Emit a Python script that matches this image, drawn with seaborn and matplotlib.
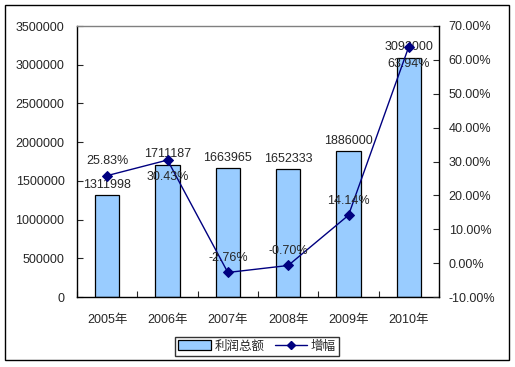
import numpy as np
import pandas as pd
import matplotlib
matplotlib.use('Agg')
import matplotlib.pyplot as plt
from matplotlib.patches import Rectangle
from matplotlib.lines import Line2D
from matplotlib.ticker import FuncFormatter, FixedLocator
import seaborn as sns

years = ['2005年', '2006年', '2007年', '2008年', '2009年', '2010年']
profit = [1311998, 1711187, 1663965, 1652333, 1886000, 3092000]
growth = [25.83, 30.43, -2.76, -0.70, 14.14, 63.94]
bar_name = '利润总额'
line_name = '增幅'
growth_label_below = [False, True, False, False, False, True]

sns.set_style('white')
plt.rcParams['font.family'] = ['Liberation Sans', 'Noto Sans CJK SC']
plt.rcParams['font.size'] = 9

df = pd.DataFrame({'year': years, 'pos': np.arange(len(years)),
                   'profit': profit, 'growth': growth})

fig = plt.figure(figsize=(5.15, 3.67), dpi=100)
fig.patches.append(Rectangle((5 / 515, 1 - 360 / 367), 504 / 515, 355 / 367,
                             transform=fig.transFigure, fill=False,
                             edgecolor='black', linewidth=1.0))
ax = fig.add_axes([77 / 515, 1 - 297 / 367, 362 / 515, 271 / 367])

sns.barplot(data=df, x='pos', y='profit', ax=ax, color='#99CCFF',
            saturation=1, width=0.4, edgecolor='black', linewidth=0.9)
ax.set_xlim(-0.5, len(years) - 0.5)
ax.set_ylim(0, 3500000)
ax.set_yticks(np.arange(0, 3500001, 500000))
ax.yaxis.set_major_formatter(FuncFormatter(lambda v, p: f'{int(v)}'))
ax.set_xticks(df['pos'])
ax.set_xticklabels(years)
ax.xaxis.set_minor_locator(FixedLocator(np.arange(-0.5, len(years), 1.0)))
ax.tick_params(axis='x', which='major', length=0, pad=12, labelsize=9)
ax.tick_params(axis='x', which='minor', direction='in', length=4, width=0.8,
               bottom=True)
ax.tick_params(axis='y', direction='in', length=4, width=0.8, pad=9,
               labelsize=9, left=True)
ax.set_xlabel('')
ax.set_ylabel('')
for s in ['left', 'bottom']:
    ax.spines[s].set_color('black')
    ax.spines[s].set_linewidth(1.0)
ax.spines['top'].set_color('#808080')
ax.spines['top'].set_linewidth(1.0)
ax.spines['right'].set_visible(False)

for p, v in zip(ax.patches, profit):
    ax.annotate(f'{v}', (p.get_x() + p.get_width() / 2, p.get_height()),
                xytext=(0, 3), textcoords='offset points',
                ha='center', va='bottom', fontsize=9)

ax2 = ax.twinx()
sns.lineplot(data=df, x='pos', y='growth', ax=ax2, color='#000080',
             marker='D', markersize=5, markeredgecolor='#000080',
             linewidth=1.0)
ax2.set_ylim(-10, 70)
ax2.set_yticks(np.arange(-10, 71, 10))
ax2.yaxis.set_major_formatter(FuncFormatter(lambda v, p: f'{v:.2f}%'))
ax2.tick_params(axis='y', direction='in', length=4, width=0.8, pad=7,
                labelsize=9, right=True)
ax2.set_ylabel('')
ax2.set_xlabel('')
ax2.spines['right'].set_color('black')
ax2.spines['right'].set_linewidth(1.0)
for s in ['left', 'top', 'bottom']:
    ax2.spines[s].set_visible(False)

for x, g, below in zip(df['pos'], growth, growth_label_below):
    if below:
        ax2.annotate(f'{g:.2f}%', (x, g), xytext=(0, -8),
                     textcoords='offset points', ha='center', va='top',
                     fontsize=9)
    else:
        ax2.annotate(f'{g:.2f}%', (x, g), xytext=(0, 6),
                     textcoords='offset points', ha='center', va='bottom',
                     fontsize=9)

handles = [Rectangle((0, 0), 1, 1, facecolor='#99CCFF', edgecolor='black',
                     linewidth=0.9),
           Line2D([], [], color='#000080', marker='D', markersize=4,
                  linewidth=1.0)]
leg = fig.legend(handles, [bar_name, line_name], loc='center',
                 bbox_to_anchor=(257 / 515, 1 - 346.5 / 367), ncol=2,
                 frameon=True, fancybox=False, fontsize=9, handlelength=2.6,
                 handleheight=0.8, columnspacing=0.8, handletextpad=0.3,
                 borderpad=0.25, borderaxespad=0)
leg.get_frame().set_edgecolor('black')
leg.get_frame().set_linewidth(1.0)

fig.savefig('out.png', dpi=100)
